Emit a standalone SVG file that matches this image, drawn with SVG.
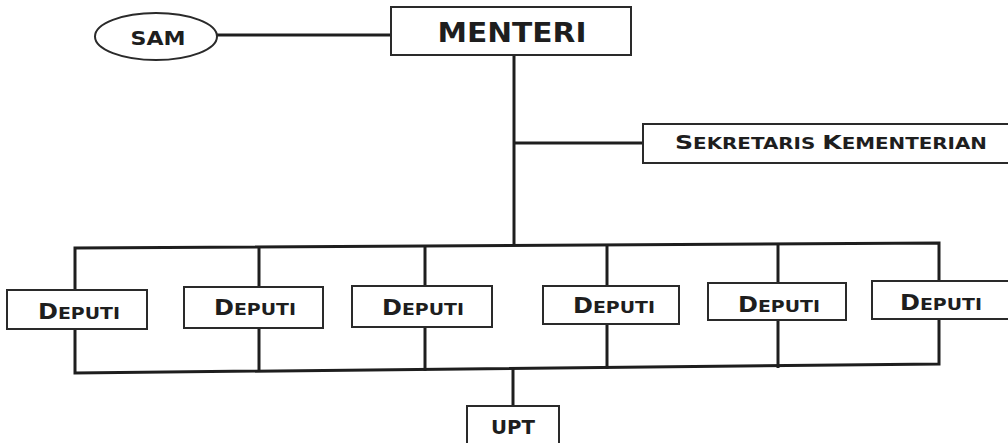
<svg xmlns="http://www.w3.org/2000/svg" width="1008" height="443" viewBox="0 0 1008 443">
  <style>
    .box { fill: #ffffff; stroke: #2a2a2a; stroke-width: 2; }
    .wire { fill: none; stroke: #1e1e1e; stroke-width: 3; stroke-linejoin: miter; }
    .lbl { font-family: "DejaVu Sans", "Liberation Sans", sans-serif; font-weight: bold; fill: #1e1e1e; text-anchor: middle; }
  </style>
  <rect width="1008" height="443" fill="#ffffff"/>

  <!-- connectors -->
  <g id="connectors" class="wire">
    <line x1="217" y1="35" x2="391" y2="35"/>
    <line x1="514" y1="55" x2="514" y2="246"/>
    <line x1="514" y1="143" x2="643" y2="143"/>
    <!-- deputy frame: top and bottom bus -->
    <polyline points="75,300 75,248 939,243 939,300"/>
    <polyline points="75,320 75,373 939,364 939,320"/>
    <line x1="259" y1="247" x2="259" y2="372"/>
    <line x1="425" y1="246" x2="425" y2="371"/>
    <line x1="607" y1="245" x2="607" y2="369"/>
    <line x1="778" y1="244" x2="778" y2="368"/>
    <line x1="513" y1="369" x2="513" y2="406"/>
  </g>

  <g id="sam">
    <ellipse class="box" cx="156" cy="36.5" rx="61" ry="23.5"/>
    <text class="lbl" x="158" y="45" font-size="19" textLength="55" lengthAdjust="spacingAndGlyphs">SAM</text>
  </g>

  <g id="menteri">
    <rect class="box" x="391" y="7" width="240" height="48"/>
    <text class="lbl" x="512" y="42" font-size="26" textLength="149" lengthAdjust="spacingAndGlyphs">MENTERI</text>
  </g>

  <g id="sekretaris">
    <rect class="box" x="643" y="124" width="370" height="39"/>
    <text class="lbl" x="831" y="149" font-size="15" textLength="312" lengthAdjust="spacingAndGlyphs"><tspan font-size="19">S</tspan>EKRETARIS <tspan font-size="19">K</tspan>EMENTERIAN</text>
  </g>

  <g id="deputi-1">
    <rect class="box" x="7" y="290" width="140" height="39"/>
    <text class="lbl" x="79" y="319" font-size="16.5" textLength="82" lengthAdjust="spacingAndGlyphs"><tspan font-size="21">D</tspan>EPUTI</text>
  </g>
  <g id="deputi-2">
    <rect class="box" x="184" y="287" width="139" height="41"/>
    <text class="lbl" x="255" y="315" font-size="16.5" textLength="82" lengthAdjust="spacingAndGlyphs"><tspan font-size="21">D</tspan>EPUTI</text>
  </g>
  <g id="deputi-3">
    <rect class="box" x="352" y="286" width="140" height="41"/>
    <text class="lbl" x="423" y="315" font-size="16.5" textLength="82" lengthAdjust="spacingAndGlyphs"><tspan font-size="21">D</tspan>EPUTI</text>
  </g>
  <g id="deputi-4">
    <rect class="box" x="543" y="286" width="136" height="38"/>
    <text class="lbl" x="614" y="313" font-size="16.5" textLength="82" lengthAdjust="spacingAndGlyphs"><tspan font-size="21">D</tspan>EPUTI</text>
  </g>
  <g id="deputi-5">
    <rect class="box" x="708" y="283" width="138" height="37"/>
    <text class="lbl" x="779" y="312" font-size="16.5" textLength="82" lengthAdjust="spacingAndGlyphs"><tspan font-size="21">D</tspan>EPUTI</text>
  </g>
  <g id="deputi-6">
    <rect class="box" x="872" y="281" width="140" height="38"/>
    <text class="lbl" x="941" y="310" font-size="16.5" textLength="82" lengthAdjust="spacingAndGlyphs"><tspan font-size="21">D</tspan>EPUTI</text>
  </g>

  <g id="upt">
    <rect class="box" x="467" y="406" width="92" height="45"/>
    <text class="lbl" x="513" y="434" font-size="20" textLength="44" lengthAdjust="spacingAndGlyphs">UPT</text>
  </g>
</svg>
